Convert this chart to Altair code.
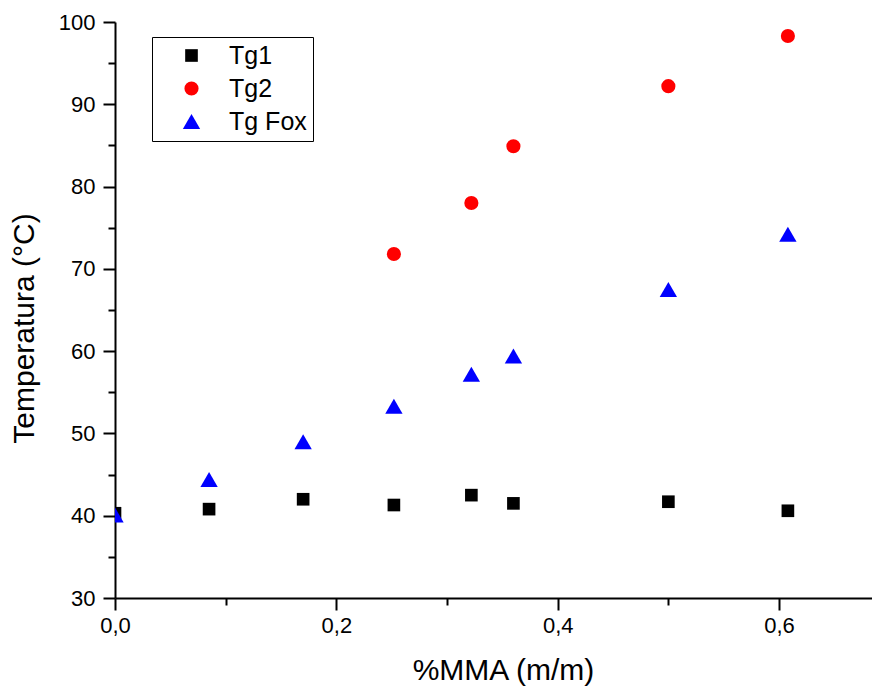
import altair as alt
import pandas as pd

series_names = ["Tg1", "Tg2", "Tg Fox"]
series_colors = ["#000000", "#ff0000", "#0000ff"]
series_shapes = ["square", "circle", "triangle-up"]
series_sizes = [160, 200, 300]

x_tg1 = [0.0, 0.085, 0.17, 0.252, 0.322, 0.36, 0.5, 0.608]
y_tg1 = [40.3, 40.8, 42.0, 41.3, 42.5, 41.5, 41.7, 40.6]
x_tg2 = [0.252, 0.322, 0.36, 0.5, 0.608]
y_tg2 = [71.8, 78.0, 84.9, 92.2, 98.3]
x_fox = [0.0, 0.085, 0.17, 0.252, 0.322, 0.36, 0.5, 0.608]
y_fox = [40.1, 44.4, 49.0, 53.3, 57.2, 59.4, 67.5, 74.2]

x_ticks = [0.0, 0.1, 0.2, 0.3, 0.4, 0.5, 0.6]
y_ticks = [30, 35, 40, 45, 50, 55, 60, 65, 70, 75, 80, 85, 90, 95, 100]

rows = []
for name, xs, ys in [("Tg1", x_tg1, y_tg1), ("Tg2", x_tg2, y_tg2), ("Tg Fox", x_fox, y_fox)]:
    for i, (xv, yv) in enumerate(zip(xs, ys)):
        rows.append({"series": name, "x": xv, "y": yv, "order": series_names.index(name)})
df = pd.DataFrame(rows)

FONT = "Liberation Sans"

legend = alt.Legend(
    title=None,
    orient="none",
    legendX=37,
    legendY=15,
    strokeColor="black",
    padding=6,
    labelFontSize=25,
    labelFont=FONT,
    labelColor="black",
    rowPadding=7,
    symbolOffset=21,
    labelOffset=25,
    symbolStrokeWidth=0,
)

x_axis = alt.Axis(
    values=x_ticks,
    labelExpr="round(datum.value*10) % 2 === 0 ? replace(format(datum.value, '.1f'), '.', ',') : ''",
    tickSize={"condition": {"test": "round(datum.value*10) % 2 === 0", "value": 12}, "value": 7},
    title="%MMA (m/m)",
    titleFontSize=30,
    titlePadding=19,
    titleX=388,
    labelFontSize=22,
    labelPadding=5,
    labelFlush=False,
)
y_axis = alt.Axis(
    values=y_ticks,
    labelExpr="datum.value % 10 === 0 ? datum.label : ''",
    tickSize={"condition": {"test": "datum.value % 10 === 0", "value": 12}, "value": 7},
    title="Temperatura (°C)",
    titleFontSize=30,
    titlePadding=19,
    titleY=306,
    labelFontSize=22,
    labelPadding=8,
)

chart = alt.Chart(df).mark_point(filled=True, opacity=1, strokeWidth=0, clip=True).encode(
    x=alt.X("x:Q", scale=alt.Scale(domain=[0, 0.684], nice=False, zero=False), axis=x_axis),
    y=alt.Y("y:Q", scale=alt.Scale(domain=[30, 100], nice=False, zero=False), axis=y_axis),
    color=alt.Color("series:N", scale=alt.Scale(domain=series_names, range=series_colors), legend=legend),
    shape=alt.Shape("series:N", scale=alt.Scale(domain=series_names, range=series_shapes), legend=legend),
    size=alt.Size("series:N", scale=alt.Scale(type="ordinal", domain=series_names, range=series_sizes), legend=legend),
    order=alt.Order("order:Q"),
).properties(
    width=757,
    height=576,
    padding={"left": 107, "top": 14, "right": 0, "bottom": 90},
    autosize="none",
).configure_view(stroke=None).configure_axis(
    grid=False,
    domainColor="black",
    domainWidth=2,
    tickColor="black",
    tickWidth=2,
    labelColor="black",
    titleColor="black",
    labelFont=FONT,
    titleFont=FONT,
    titleFontWeight="normal",
)

chart.save("out.html", embed_options={"renderer": "svg", "actions": False})
